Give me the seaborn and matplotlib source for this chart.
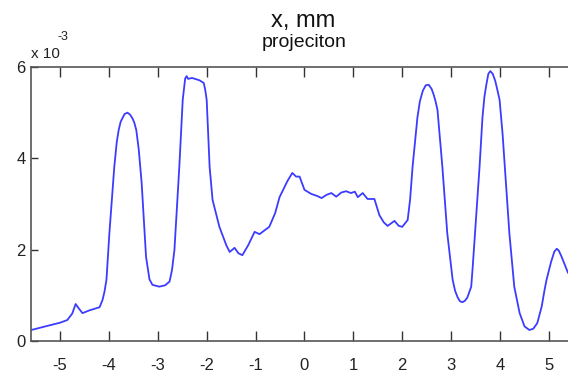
import matplotlib
matplotlib.use("Agg")
import matplotlib.pyplot as plt
import seaborn as sns
import pandas as pd

# position along x, mm
x_mm = [-5.59, -5.3, -5.0, -4.85, -4.75, -4.68, -4.62, -4.54, -4.4, -4.19, -4.13, -4.09, -4.05,
        -3.99, -3.89, -3.84, -3.80, -3.76, -3.68, -3.62, -3.57, -3.52, -3.48, -3.44, -3.39,
        -3.33, -3.24, -3.17, -3.11, -2.97,
        -2.85, -2.76, -2.71, -2.66, -2.56, -2.49, -2.44, -2.41, -2.38, -2.3, -2.15, -2.06, -2.03,
        -2.0, -1.94, -1.88, -1.74, -1.6, -1.53, -1.43, -1.35, -1.27, -1.15, -1.02, -0.92, -0.72,
        -0.6, -0.51, -0.35, -0.25, -0.17, -0.10, 0.0, 0.14, 0.25, 0.35, 0.45, 0.55, 0.65,
        0.75, 0.85, 0.95, 1.03, 1.09, 1.19, 1.29, 1.43, 1.53, 1.62, 1.70, 1.84, 1.93, 2.0,
        2.11, 2.16, 2.21, 2.31, 2.36, 2.42, 2.48, 2.54, 2.60, 2.64, 2.68, 2.72, 2.82, 2.92,
        3.03, 3.08, 3.13, 3.18, 3.23, 3.28, 3.33, 3.41,
        3.44, 3.58, 3.64, 3.68, 3.72, 3.76, 3.80, 3.85, 3.90, 3.94, 3.99, 4.05, 4.19, 4.29,
        4.40, 4.50, 4.60, 4.68, 4.76, 4.85, 4.91, 4.95, 5.04, 5.11, 5.16, 5.2, 5.26, 5.39]
# projection values, in units of 1e-3
proj_e3 = [0.24, 0.32, 0.40, 0.46, 0.6, 0.81, 0.72, 0.61, 0.67, 0.74, 0.9, 1.08, 1.34,
           2.36, 3.81, 4.35, 4.62, 4.8, 4.97, 5.0, 4.96, 4.88, 4.78, 4.62, 4.2,
           3.46, 1.84, 1.35, 1.23, 1.19,
           1.22, 1.30, 1.55, 1.99, 3.81, 5.28, 5.75, 5.80, 5.74, 5.76, 5.71, 5.65, 5.5,
           5.28, 3.81, 3.09, 2.5, 2.1, 1.95, 2.04, 1.92, 1.88, 2.1, 2.39, 2.34, 2.5,
           2.8, 3.15, 3.5, 3.68, 3.6, 3.6, 3.31, 3.22, 3.18, 3.13, 3.2, 3.24, 3.16,
           3.25, 3.28, 3.24, 3.27, 3.15, 3.24, 3.11, 3.11, 2.76, 2.6, 2.52, 2.63, 2.52, 2.5,
           2.65, 3.1, 3.81, 4.9, 5.25, 5.48, 5.6, 5.61, 5.52, 5.4, 5.25, 5.06, 3.81, 2.36,
           1.34, 1.1, 0.96, 0.87, 0.85, 0.88, 0.95, 1.19,
           1.62, 3.81, 4.9, 5.35, 5.62, 5.85, 5.91, 5.85, 5.7, 5.52, 5.28, 4.55, 2.36, 1.19,
           0.61, 0.32, 0.24, 0.27, 0.39, 0.75, 1.12, 1.34, 1.72, 1.96, 2.02, 1.98, 1.84, 1.49]
x_ticks = [-5, -4, -3, -2, -1, 0, 1, 2, 3, 4, 5]
y_ticks_e3 = [0, 2, 4, 6]
scale = 1e-3

sns.set_style("white")
fam = ["Liberation Sans Narrow", "Liberation Sans", "DejaVu Sans"]
plt.rcParams["font.family"] = fam

df = pd.DataFrame({"x": x_mm, "p": [v * scale for v in proj_e3]})

fig = plt.figure(figsize=(5.68, 3.72), dpi=100)
W, H = 568, 372
ax = fig.add_axes([31 / W, (H - 341) / H, (568 - 31) / W, (341 - 67) / H])

sns.lineplot(data=df, x="x", y="p", ax=ax, color="#3c3cff", lw=1.3,
             sort=False, estimator=None)

ax.set_xlim(-5.593, 5.389)
ax.set_ylim(0, 6 * scale)
ax.set_xticks(x_ticks)
ax.set_xticklabels([str(t) for t in x_ticks])
ax.set_yticks([t * scale for t in y_ticks_e3])
ax.set_yticklabels([str(t) for t in y_ticks_e3])
ax.set_xlabel("")
ax.set_ylabel("")

for s in ["left", "bottom", "top"]:
    ax.spines[s].set_color("#555555")
    ax.spines[s].set_linewidth(1.2)
ax.spines["right"].set_visible(False)

ax.tick_params(axis="x", direction="in", length=7, width=1, color="#333333",
               top=True, bottom=True, labelsize=12, pad=12, labelcolor="#222222")
ax.tick_params(axis="y", direction="in", length=5, width=1, color="#333333",
               left=True, labelsize=12, pad=4, labelcolor="#222222")

# exponent label
fig.text(31 / W, 1 - 58 / H, "x 10", fontsize=11, color="#222222",
         ha="left", va="baseline")
fig.text(57 / W, 1 - 40 / H, "-3", fontsize=9, color="#222222",
         ha="left", va="baseline")

# title
fig.text(303 / W, 1 - 27 / H, "x, mm", fontsize=17, color="#111111",
         ha="center", va="baseline")
fig.text(304 / W, 1 - 47 / H, "projeciton", fontsize=14, color="#111111",
         ha="center", va="baseline")

fig.savefig("out.png", dpi=100)
